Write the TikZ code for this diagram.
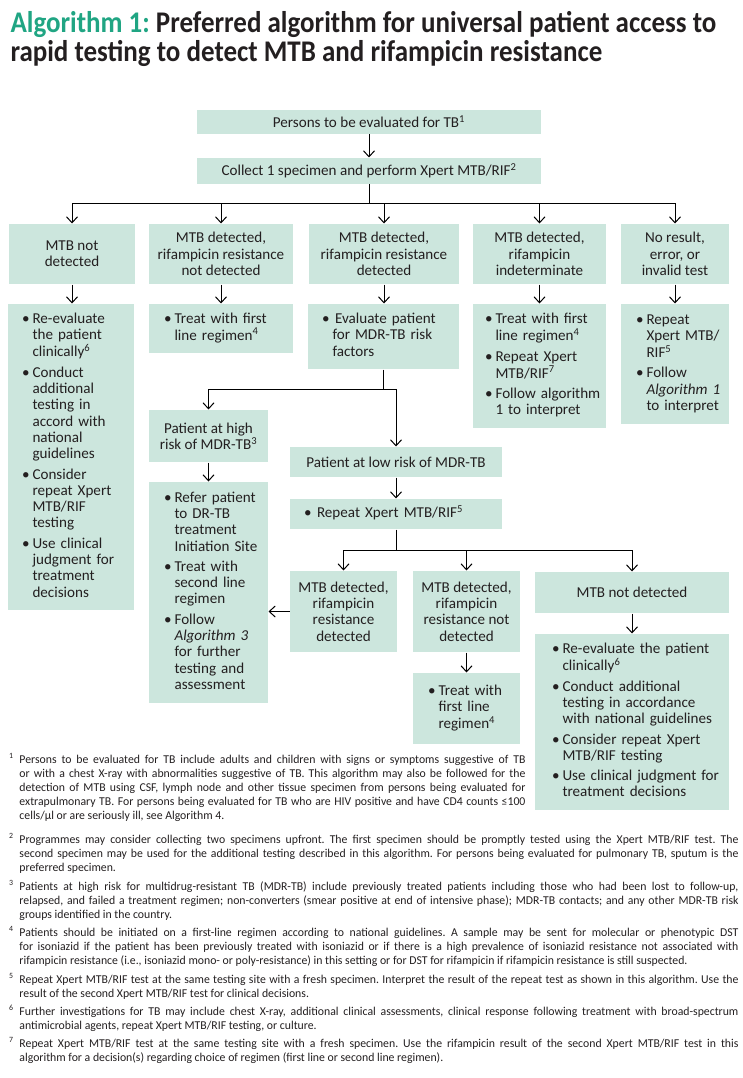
\documentclass[tikz,border=0pt]{standalone}
\usepackage{fontspec}
\setmainfont{Carlito}
\newfontfamily\titlefont[FakeStretch=0.9]{Carlito}
\newfontfamily\notefont[FakeStretch=0.98]{Carlito}
\usetikzlibrary{arrows.meta}
\setlength{\parindent}{0pt}
\frenchspacing

\definecolor{boxfill}{RGB}{204,230,221}
\definecolor{titlegreen}{RGB}{32,165,131}
\definecolor{ink}{RGB}{35,31,32}

\newcommand{\boxsize}{\fontsize{15.1}{16.3}\selectfont}
\newcommand{\notesize}{\notefont\fontsize{12}{14}\selectfont}
\newcommand{\blist}[1]{\begin{tabular}{@{}l@{\hspace{3pt}}l@{}}#1\end{tabular}}
\newcommand{\fnum}[1]{\noindent\strut\llap{\textsuperscript{#1}\hspace{6pt}}}

\tikzset{result/.style={fill=boxfill,font=\boxsize,align=center,text=ink},
action/.style={fill=boxfill,font=\boxsize,align=left,text=ink},
arr/.style={-{Straight Barb[length=6pt,width=11pt]}},
note/.style={anchor=north west,align=justify,font=\notesize\frenchspacing,text=ink},
title line/.style={anchor=base west,font=\titlefont\bfseries\fontsize{30}{36}\selectfont,text=ink}}

\begin{document}
\begin{tikzpicture}[x=1pt,y=-1pt,line width=1pt,inner sep=0pt]
\useasboundingbox (0,0) rectangle (743,1078);

%% title
\node [title line] (tl1) at (10,33) {\textcolor{titlegreen}{Algorithm 1:} Preferred algorithm for universal patient access to};
\node [title line] (tl2) at (10,62) {rapid testing to detect MTB and rifampicin resistance};

%% top boxes
\node [result,minimum width=344,minimum height=24] (persons) at (369,122) {Persons to be evaluated for TB\textsuperscript{1}};
\node [result,minimum width=344,minimum height=26] (collect) at (369,171) {Collect 1 specimen and perform Xpert MTB/RIF\textsuperscript{2}};

%% first results
\node [result,minimum width=126,minimum height=60] (nd) at (72,254) {MTB not\\detected};
\node [result,minimum width=144,minimum height=60] (rs) at (221,254) {MTB detected,\\rifampicin resistance\\not detected};
\node [result,minimum width=150,minimum height=60] (rr) at (384,254) {MTB detected,\\rifampicin resistance\\detected};
\node [result,minimum width=133,minimum height=60] (ri) at (539.5,254) {MTB detected,\\rifampicin\\indeterminate};
\node [result,minimum width=108,minimum height=60] (nr) at (675,254) {No result,\\error, or\\invalid test};

%% first actions
\node [action,minimum width=126,text width=98,minimum height=306] (nd2) at (71,457) {\blist{%
\textbullet & Re-evaluate\\ & the patient\\ & clinically\textsuperscript{6}\\[4pt]
\textbullet & Conduct\\ & additional\\ & testing in\\ & accord with\\ & national\\ & guidelines\\[4pt]
\textbullet & Consider\\ & repeat Xpert\\ & MTB/RIF\\ & testing\\[4pt]
\textbullet & Use clinical\\ & judgment for\\ & treatment\\ & decisions}};
\node [action,minimum width=144,text width=114,minimum height=49] (rs2) at (221,328.5) {\blist{%
\textbullet & Treat with first\\ & line regimen\textsuperscript{4}}};
\node [action,minimum width=151,text width=123,minimum height=65] (rr2) at (383.5,336.5) {\blist{%
\textbullet & \,Evaluate patient\\ & for MDR-TB risk\\ & factors}};
\node [action,minimum width=133,text width=109,minimum height=124] (ri2) at (539.5,366) {\blist{%
\textbullet & Treat with first\\ & line regimen\textsuperscript{4}\\[4pt]
\textbullet & Repeat Xpert\\ & MTB/RIF\textsuperscript{7}\\[4pt]
\textbullet & Follow algorithm\\ & 1 to interpret}};
\node [action,minimum width=108,text width=78,minimum height=120] (nr2) at (675,364) {\blist{%
\textbullet & Repeat\\ & Xpert MTB/\\ & RIF\textsuperscript{5}\\[4pt]
\textbullet & Follow\\ & \textit{Algorithm 1}\\ & to interpret}};

%% risk of MDR-TB
\node [result,minimum width=119,minimum height=52] (high) at (208.5,436) {Patient at high\\risk of MDR-TB\textsuperscript{3}};
\node [action,minimum width=119,text width=89,minimum height=221] (high2) at (208.5,592.5) {\blist{%
\textbullet & Refer patient\\ & to DR-TB\\ & treatment\\ & Initiation Site\\[4pt]
\textbullet & Treat with\\ & second line\\ & regimen\\[4pt]
\textbullet & Follow\\ & \textit{Algorithm 3}\\ & for further\\ & testing and\\ & assessment}};
\node [result,minimum width=212,minimum height=30] (low) at (396,462) {Patient at low risk of MDR-TB};
\node [action,minimum width=212,text width=184,minimum height=30] (rep) at (396,514) {\blist{%
\textbullet & \,Repeat Xpert MTB/RIF\textsuperscript{5}}};

%% second results
\node [result,minimum width=107,minimum height=81] (d2) at (343.5,611.5) {MTB detected,\\rifampicin\\resistance\\detected};
\node [result,minimum width=107,minimum height=81] (n2) at (466.5,611.5) {MTB detected,\\rifampicin\\resistance not\\detected};
\node [result,minimum width=194,minimum height=41] (m2) at (632,592.5) {MTB not detected};
\node [action,minimum width=107,text width=77,minimum height=71] (n3) at (466.5,708.5) {\blist{%
\textbullet & Treat with\\ & first line\\ & regimen\textsuperscript{4}}};
\node [action,minimum width=194,text width=160,minimum height=176] (m3) at (632,722) {\blist{%
\textbullet & Re-evaluate the patient\\ & clinically\textsuperscript{6}\\[4pt]
\textbullet & Conduct additional\\ & testing in accordance\\ & with national guidelines\\[4pt]
\textbullet & Consider repeat Xpert\\ & MTB/RIF testing\\[4pt]
\textbullet & Use clinical judgment for\\ & treatment decisions}};

%% split points
\coordinate (s1) at (369,203);
\coordinate (s2) at (383.5,389);
\coordinate (s3) at (396,550);

%% connectors
\draw [arr] (persons) -- (collect);
\draw (collect) -- (s1);
\draw [line cap=rect] (nd.north |- s1) -- (nr.north |- s1);
\draw [arr] (nd.north |- s1) -- (nd.north);
\draw [arr] (rs.north |- s1) -- (rs.north);
\draw [arr] (rr.north |- s1) -- (rr.north);
\draw [arr] (ri.north |- s1) -- (ri.north);
\draw [arr] (nr.north |- s1) -- (nr.north);

\draw [arr] (nd.south) -- (nd.south |- nd2.north);
\draw [arr] (rs.south) -- (rs.south |- rs2.north);
\draw [arr] (rr.south) -- (rr.south |- rr2.north);
\draw [arr] (ri.south) -- (ri.south |- ri2.north);
\draw [arr] (nr.south) -- (nr.south |- nr2.north);

\draw (rr2.south) -- (s2);
\draw [line cap=rect] (high.north |- s2) -- (low.north |- s2);
\draw [arr] (high.north |- s2) -- (high.north);
\draw [arr] (low.north |- s2) -- (low.north);
\draw [arr] (high) -- (high2);
\draw [arr] (low) -- (rep);

\draw (rep) -- (s3);
\draw [line cap=rect] (d2.north |- s3) -- (m2.north |- s3);
\draw [arr] (d2.north |- s3) -- (d2.north);
\draw [arr] (n2.north |- s3) -- (n2.north);
\draw [arr] (m2.north |- s3) -- (m2.north);
\draw [arr] (d2.west) -- (d2.west -| high2.east);
\draw [arr] (n2) -- (n3);
\draw [arr] (m2) -- (m3);

%% footnotes
\node [note,text width=506] (fn1) at (19,753) {\fnum{1}Persons to be evaluated for TB include adults and children with signs or symptoms suggestive of TB\linebreak
or with a chest X-ray with abnormalities suggestive of TB. This algorithm may also be followed for the\linebreak
detection of MTB using CSF, lymph node and other tissue specimen from persons being evaluated for\linebreak
extrapulmonary TB. For persons being evaluated for TB who are HIV positive and have CD4 counts ≤100\linebreak
cells/µl or are seriously ill, see Algorithm 4.};
\node [note,text width=719] (fn2) at (19,833) {\fnum{2}Programmes may consider collecting two specimens upfront. The first specimen should be promptly tested using the Xpert MTB/RIF test. The\linebreak
second specimen may be used for the additional testing described in this algorithm. For persons being evaluated for pulmonary TB, sputum is the\linebreak
preferred specimen.};
\node [note,text width=719] (fn3) at (19,880) {\fnum{3}Patients at high risk for multidrug-resistant TB (MDR-TB) include previously treated patients including those who had been lost to follow-up,\linebreak
relapsed, and failed a treatment regimen; non-converters (smear positive at end of intensive phase); MDR-TB contacts; and any other MDR-TB risk\linebreak
groups identified in the country.};
\node [note,text width=719] (fn4) at (19,926) {\fnum{4}Patients should be initiated on a first-line regimen according to national guidelines. A sample may be sent for molecular or phenotypic DST\linebreak
for isoniazid if the patient has been previously treated with isoniazid or if there is a high prevalence of isoniazid resistance not associated with\linebreak
rifampicin resistance (i.e., isoniazid mono- or poly-resistance) in this setting or for DST for rifampicin if rifampicin resistance is still suspected.};
\node [note,text width=719] (fn5) at (19,973) {\fnum{5}Repeat Xpert MTB/RIF test at the same testing site with a fresh specimen. Interpret the result of the repeat test as shown in this algorithm. Use the\linebreak
result of the second Xpert MTB/RIF test for clinical decisions.};
\node [note,text width=719] (fn6) at (19,1005) {\fnum{6}Further investigations for TB may include chest X-ray, additional clinical assessments, clinical response following treatment with broad-spectrum\linebreak
antimicrobial agents, repeat Xpert MTB/RIF testing, or culture.};
\node [note,text width=719] (fn7) at (19,1037) {\fnum{7}Repeat Xpert MTB/RIF test at the same testing site with a fresh specimen. Use the rifampicin result of the second Xpert MTB/RIF test in this\linebreak
algorithm for a decision(s) regarding choice of regimen (first line or second line regimen).};

\end{tikzpicture}
\end{document}
